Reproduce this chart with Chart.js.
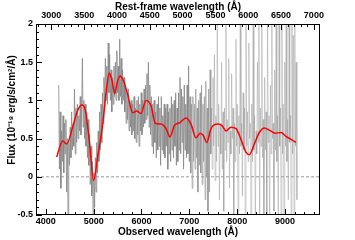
<!DOCTYPE html>
<html>
<head>
<meta charset="utf-8">
<script src="https://cdn.jsdelivr.net/npm/chart.js@4/dist/chart.umd.min.js"></script>
<style>
  html, body { margin: 0; padding: 0; background: #fff; }
</style>
</head>
<body>
<canvas id="spec" width="355" height="240"></canvas>
<script>
// observed wavelength range and redshift for the top axis
const obsMin = 3795, obsMax = 9732;
const onePlusZ = 1.372;

const bottomTicks = [4000, 5000, 6000, 7000, 8000, 9000];
const topTicks = [3000, 3500, 4000, 4500, 5000, 5500, 6000, 6500, 7000];
const yTicks = [-0.5, 0, 0.5, 1, 1.5, 2];

// noisy spectrum (grey), 15 A sampling
const specWave = [
  4270,4285,4300,4315,4330,4345,4360,4375,4390,4405, 4420,4435,4450,4465,4480,4495,4510,4525,4540,4555,
  4570,4585,4600,4615,4630,4645,4660,4675,4690,4705, 4720,4735,4750,4765,4780,4795,4810,4825,4840,4855,
  4870,4885,4900,4915,4930,4945,4960,4975,4990,5005, 5020,5035,5050,5065,5080,5095,5110,5125,5140,5155,
  5170,5185,5200,5215,5230,5245,5260,5275,5290,5305, 5320,5335,5350,5365,5380,5395,5410,5425,5440,5455,
  5470,5485,5500,5515,5530,5545,5560,5575,5590,5605, 5620,5635,5650,5665,5680,5695,5710,5725,5740,5755,
  5770,5785,5800,5815,5830,5845,5860,5875,5890,5905, 5920,5935,5950,5965,5980,5995,6010,6025,6040,6055,
  6070,6085,6100,6115,6130,6145,6160,6175,6190,6205, 6220,6235,6250,6265,6280,6295,6310,6325,6340,6355,
  6370,6385,6400,6415,6430,6445,6460,6475,6490,6505, 6520,6535,6550,6565,6580,6595,6610,6625,6640,6655,
  6670,6685,6700,6715,6730,6745,6760,6775,6790,6805, 6820,6835,6850,6865,6880,6895,6910,6925,6940,6955,
  6970,6985,7000,7015,7030,7045,7060,7075,7090,7105, 7120,7135,7150,7165,7180,7195,7210,7225,7240,7255,
  7270,7285,7300,7315,7330,7345,7360,7375,7390,7405, 7420,7435,7450,7465,7480,7495,7510,7525,7540,7555,
  7570,7585,7600,7615,7630,7645,7660,7675,7690,7705, 7720,7735,7750,7765,7780,7795,7810,7825,7840,7855,
  7870,7885,7900,7915,7930,7945,7960,7975,7990,8005, 8020,8035,8050,8065,8080,8095,8110,8125,8140,8155,
  8170,8185,8200,8215,8230,8245,8260,8275,8290,8305, 8320,8335,8350,8365,8380,8395,8410,8425,8440,8455,
  8470,8485,8500,8515,8530,8545,8560,8575,8590,8605, 8620,8635,8650,8665,8680,8695,8710,8725,8740,8755,
  8770,8785,8800,8815,8830,8845,8860,8875,8890,8905, 8920,8935,8950,8965,8980,8995,9010,9025,9040,9055,
  9070,9085,9100,9115,9130,9145,9160,9175,9190,9205, 9220,9235,9250
];
const specFlux = [
  1.20,0.10,0.85,-0.15,0.60,0.20,0.80,0.05,0.70,0.30, 0.75,-0.20,0.50,-0.55,0.45,0.15,0.65,0.25,0.85,0.35,
  0.70,0.40,1.15,0.30,0.90,0.45,0.95,0.50,0.80,0.60, 1.05,0.55,0.90,1.55,0.65,1.00,0.50,0.95,0.40,0.85,
  0.25,0.75,0.15,0.55,-0.10,0.40,-0.25,0.20,-0.60,0.05, -0.40,0.25,-0.20,0.45,0.05,0.60,0.20,0.85,0.35,0.95,
  0.45,1.10,0.70,1.30,0.90,1.55,1.00,1.45,0.95,1.75, 1.10,1.60,1.00,1.40,0.85,1.30,0.95,1.45,1.05,1.50,
  1.00,1.65,1.10,1.45,1.00,1.80,1.05,1.55,0.95,1.40, 1.00,1.30,0.85,1.20,0.70,1.10,0.75,1.15,0.60,0.95,
  0.65,1.00,0.55,0.95,0.60,1.05,0.50,0.90,0.45,1.00, 0.55,1.05,0.40,0.95,0.60,1.10,0.55,1.00,0.65,1.15,
  0.70,1.20,0.75,1.35,0.80,1.50,0.65,1.20,0.55,1.05, 0.40,0.95,0.30,1.00,0.45,0.85,0.25,0.95,0.35,1.05,
  0.40,0.90,0.15,1.05,0.35,0.80,0.30,0.95,0.25,0.90, 0.40,0.95,0.10,0.85,0.30,0.90,0.20,1.05,0.35,0.95,
  0.25,1.00,0.40,1.10,0.15,0.90,0.20,1.10,0.35,1.30, 0.30,1.15,0.45,1.05,0.10,1.20,0.35,0.95,0.25,1.20,
  0.30,1.45,0.20,1.05,0.05,0.95,-0.15,1.05,0.20,0.95, 0.10,1.15,0.25,0.90,-0.20,1.00,0.15,1.10,0.05,1.20,
  -0.10,0.95,0.20,1.05,-0.30,1.25,0.00,0.90,-0.45,1.15, -0.20,1.40,0.30,0.90,0.10,1.30,0.40,1.60,-0.05,0.80,
  0.20,2.20,0.40,0.95,-0.30,0.70,0.30,1.50,0.10,0.85, -0.45,0.90,0.35,2.20,0.20,0.75,0.45,1.55,-0.15,0.60,
  0.30,1.35,0.50,0.90,-0.60,0.70,0.20,1.80,0.40,0.95, -0.70,0.80,0.30,2.20,0.40,0.70,-0.25,1.10,0.35,0.90,
  -0.70,2.20,0.40,0.85,0.20,1.75,0.50,0.70,-0.70,0.95, 0.20,2.20,0.35,0.80,-0.70,0.60,0.30,1.50,0.45,2.20,
  -0.70,0.90,0.40,2.20,0.25,0.75,-0.50,1.30,0.35,0.85, -0.70,2.20,0.45,0.80,-0.70,1.20,0.30,2.20,0.50,0.70,
  -0.45,1.40,0.35,2.20,0.20,0.80,-0.70,2.20,0.40,0.90, -0.70,2.20,0.30,0.95,-0.70,1.50,0.40,2.20,0.20,0.75,
  -0.30,2.20,0.45,0.80,-0.60,2.20,0.30,1.85,-0.70,2.20, 0.40,1.50,-0.30
];

// smoothed spectrum (red)
const fitWave = [
  4227, 4352, 4436, 4562, 4666, 4757, 4826, 4910, 5000, 5084, 5189, 5272, 5328, 5384, 5440, 5495,
  5551, 5621, 5711, 5816, 5899, 5990, 6094, 6199, 6290, 6408, 6513, 6596, 6687, 6805, 6931, 7035,
  7140, 7223, 7293, 7363, 7453, 7593, 7683, 7767, 7871, 7976, 8080, 8185, 8255, 8359, 8464, 8568,
  8673, 8798, 8917, 9021, 9126, 9230
];
const fitFlux = [
  0.26, 0.47, 0.43, 0.65, 0.87, 0.94, 0.87, 0.47, -0.05, 0.26, 0.69, 1.17, 1.36, 1.26, 1.09, 1.24,
  1.32, 1.26, 1.08, 0.84, 0.86, 0.83, 1.00, 0.93, 0.70, 0.69, 0.63, 0.52, 0.67, 0.71, 0.77, 0.69,
  0.51, 0.57, 0.54, 0.45, 0.63, 0.69, 0.67, 0.60, 0.65, 0.63, 0.49, 0.32, 0.29, 0.43, 0.58, 0.64,
  0.61, 0.57, 0.58, 0.53, 0.49, 0.45
];

const zeroWave = [obsMin, obsMax];
const zeroFlux = [0, 0];

function pts(xs, ys) {
  return xs.map((x, i) => ({ x: x, y: ys[i] }));
}

const FONT = "'Liberation Sans Narrow', 'Liberation Sans', Arial, sans-serif";

const axesPlugin = {
  id: 'axesPlugin',
  afterDraw(chart) {
    const ctx = chart.ctx;
    const a = chart.chartArea;
    const xs = chart.scales.x, xt = chart.scales.x2, ys = chart.scales.y;
    ctx.save();
    ctx.strokeStyle = '#000';
    ctx.lineWidth = 1;
    ctx.strokeRect(a.left + 0.5, a.top + 0.5, a.right - a.left - 1, a.bottom - a.top - 1);

    ctx.beginPath();
    // bottom ticks
    for (let v = 3800; v <= obsMax; v += 200) {
      const px = Math.round(xs.getPixelForValue(v)) + 0.5;
      const len = v % 1000 === 0 ? 6 : 3;
      ctx.moveTo(px, a.bottom); ctx.lineTo(px, a.bottom - len);
    }
    // top ticks
    for (let v = 2800; v <= 7100; v += 100) {
      const px = Math.round(xt.getPixelForValue(v)) + 0.5;
      if (px < a.left || px > a.right) continue;
      const len = v % 500 === 0 ? 6 : 3;
      ctx.moveTo(px, a.top); ctx.lineTo(px, a.top + len);
    }
    // left ticks
    for (let i = -5; i <= 20; i++) {
      const py = Math.round(ys.getPixelForValue(i / 10)) + 0.5;
      const len = i % 5 === 0 ? 6 : 3;
      ctx.moveTo(a.left, py); ctx.lineTo(a.left + len, py);
    }
    ctx.stroke();

    ctx.fillStyle = '#000';
    ctx.font = 'bold 9px ' + FONT;
    ctx.textAlign = 'center';
    ctx.textBaseline = 'middle';
    bottomTicks.forEach(v => ctx.fillText(String(v), xs.getPixelForValue(v), a.bottom + 7));
    topTicks.forEach(v => ctx.fillText(String(v), xt.getPixelForValue(v), a.top - 8));
    ctx.textAlign = 'right';
    yTicks.forEach(v => ctx.fillText(String(v), a.left - 3, ys.getPixelForValue(v)));

    ctx.font = 'bold 10px ' + FONT;
    ctx.textAlign = 'center';
    const cx = (a.left + a.right) / 2;
    ctx.fillText('Rest-frame wavelength (Å)', cx, 7);
    ctx.fillText('Observed wavelength (Å)', cx, 232);
    ctx.save();
    ctx.translate(12, 110);
    ctx.rotate(-Math.PI / 2);
    ctx.fillText('Flux (10⁻¹⁸ erg/s/cm²/Å)', 0, 0);
    ctx.restore();
    ctx.restore();
  }
};

new Chart(document.getElementById('spec'), {
  type: 'line',
  data: {
    datasets: [
      {
        label: 'fit',
        data: pts(fitWave, fitFlux),
        borderColor: 'rgb(255,0,0)',
        borderWidth: 1.5,
        pointRadius: 0,
        tension: 0.4,
        cubicInterpolationMode: 'monotone',
        order: 0
      },
      {
        label: 'zero',
        data: pts(zeroWave, zeroFlux),
        borderColor: '#999',
        borderWidth: 1,
        borderDash: [3, 2],
        pointRadius: 0,
        order: 1
      },
      {
        label: 'spectrum',
        data: pts(specWave, specFlux),
        borderColor: 'rgba(135,135,135,0.8)',
        borderWidth: 1,
        pointRadius: 0,
        tension: 0,
        segment: {
          borderColor: c => {
            const x = c.p0.parsed.x;
            if (x > 7450) return 'rgba(150,150,150,0.45)';
            if (x > 7000) return 'rgba(140,140,140,0.6)';
            return undefined;
          }
        },
        order: 2
      }
    ]
  },
  options: {
    responsive: false,
    animation: false,
    devicePixelRatio: 1,
    layout: { padding: { left: 36, top: 24, right: 35, bottom: 25 } },
    plugins: { legend: { display: false }, tooltip: { enabled: false } },
    scales: {
      x: { type: 'linear', display: false, min: obsMin, max: obsMax },
      x2: { type: 'linear', display: false, min: obsMin / onePlusZ, max: obsMax / onePlusZ },
      y: { type: 'linear', display: false, min: -0.5, max: 2 }
    }
  },
  plugins: [axesPlugin]
});
</script>
</body>
</html>
